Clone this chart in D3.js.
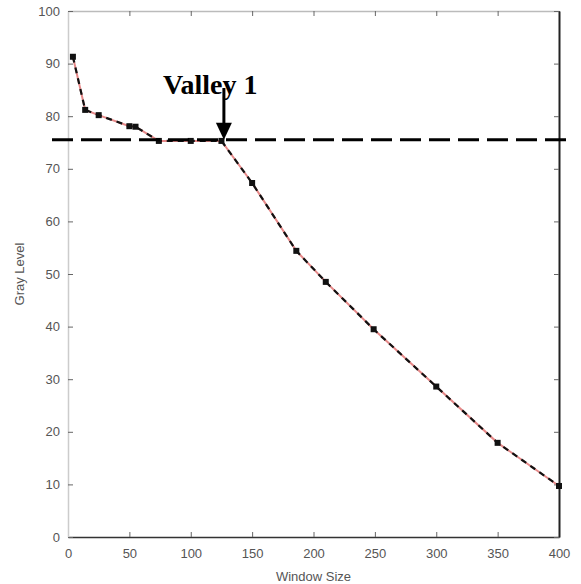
<!DOCTYPE html>
<html>
<head>
<meta charset="utf-8">
<script src="https://cdn.jsdelivr.net/npm/d3@7"></script>
<style>
html,body{margin:0;padding:0;background:#fff;}
svg{display:block;}
</style>
</head>
<body>
<svg id="chart" width="581" height="584"></svg>
<script>
// Data
const windowSize = [4, 14, 25, 50, 55, 74, 100, 125, 150, 186, 210, 249, 300, 350, 400];
const grayLevel  = [91.3, 81.2, 80.2, 78.1, 78.0, 75.3, 75.3, 75.3, 67.3, 54.4, 48.5, 39.5, 28.6, 17.9, 9.7];
const xTicks = [0, 50, 100, 150, 200, 250, 300, 350, 400];
const yTicks = [0, 10, 20, 30, 40, 50, 60, 70, 80, 90, 100];
const thresholdValue = 75.5;
const valleyX = 127;
const valleyLabel = "Valley 1";
const xTitle = "Window Size";
const yTitle = "Gray Level";

(function () {
const svg = d3.select("#chart");
const mLeft = 68, mRight = 559, mTop = 11, mBottom = 537;
const x = d3.scaleLinear().domain([0, 400]).range([mLeft, mRight]);
const y = d3.scaleLinear().domain([0, 100]).range([mBottom, mTop]);

const tickFmt = d3.format("d");
const gB = svg.append("g").attr("transform", `translate(0,${mBottom})`)
  .call(d3.axisBottom(x).tickValues(xTicks).tickSizeInner(-5).tickSizeOuter(0).tickPadding(12).tickFormat(tickFmt));
const gT = svg.append("g").attr("transform", `translate(0,${mTop})`)
  .call(d3.axisTop(x).tickValues(xTicks).tickSizeInner(-5).tickSizeOuter(0).tickFormat(""));
const gL = svg.append("g").attr("transform", `translate(${mLeft},0)`)
  .call(d3.axisLeft(y).tickValues(yTicks).tickSizeInner(-5).tickSizeOuter(0).tickPadding(8).tickFormat(tickFmt));
const gR = svg.append("g").attr("transform", `translate(${mRight},0)`)
  .call(d3.axisRight(y).tickValues(yTicks).tickSizeInner(-5).tickSizeOuter(0).tickFormat(""));

[gB, gT, gL, gR].forEach(g => {
  g.selectAll("text").attr("font-family", "Liberation Sans, Arial, sans-serif")
    .attr("font-size", 13).attr("fill", "#555");
  g.selectAll(".tick line").attr("stroke", "#666");
});
gT.select(".domain").attr("stroke", "#bbb").attr("stroke-width", 1.5);
gL.select(".domain").attr("stroke", "#ccc").attr("stroke-width", 1.5);
gB.select(".domain").attr("stroke", "#333").attr("stroke-width", 1.5);
gR.select(".domain").attr("stroke", "#222").attr("stroke-width", 2);

svg.append("text").attr("x", (mLeft + mRight) / 2).attr("y", 578)
  .attr("text-anchor", "middle").attr("dominant-baseline", "middle")
  .attr("font-family", "Liberation Sans, Arial, sans-serif").attr("font-size", 13).attr("fill", "#555")
  .text(xTitle);
svg.append("text").attr("transform", `translate(21,${(mTop + mBottom) / 2}) rotate(-90)`)
  .attr("text-anchor", "middle").attr("dominant-baseline", "middle")
  .attr("font-family", "Liberation Sans, Arial, sans-serif").attr("font-size", 13).attr("fill", "#555")
  .text(yTitle);

const pts = windowSize.map((w, i) => [w, grayLevel[i]]);
const line = d3.line().x(d => x(d[0])).y(d => y(d[1]));
svg.append("path").datum(pts).attr("d", line)
  .attr("fill", "none").attr("stroke", "#e06a6a").attr("stroke-width", 2).attr("stroke-opacity", 0.8);
svg.append("path").datum(pts).attr("d", line)
  .attr("fill", "none").attr("stroke", "#111").attr("stroke-width", 2.2).attr("stroke-dasharray", "6,5");
svg.append("g").selectAll("rect").data(pts).join("rect")
  .attr("x", d => x(d[0]) - 3).attr("y", d => y(d[1]) - 3)
  .attr("width", 6).attr("height", 6).attr("fill", "#111");

svg.append("line")
  .attr("x1", 52).attr("x2", 566)
  .attr("y1", y(thresholdValue)).attr("y2", y(thresholdValue))
  .attr("stroke", "#000").attr("stroke-width", 3).attr("stroke-dasharray", "21,8");

const ax = x(valleyX);
const tipY = y(thresholdValue);
svg.append("line").attr("x1", ax).attr("x2", ax).attr("y1", 88).attr("y2", tipY - 14)
  .attr("stroke", "#000").attr("stroke-width", 3);
svg.append("path")
  .attr("d", `M${ax - 8},${tipY - 17} L${ax + 8},${tipY - 17} L${ax},${tipY} Z`)
  .attr("fill", "#000");
svg.append("text").attr("x", ax - 61).attr("y", 94)
  .attr("font-family", "Liberation Serif, Times New Roman, serif").attr("font-weight", "bold")
  .attr("font-size", 28).attr("fill", "#000").text(valleyLabel);
})();
</script>
</body>
</html>
